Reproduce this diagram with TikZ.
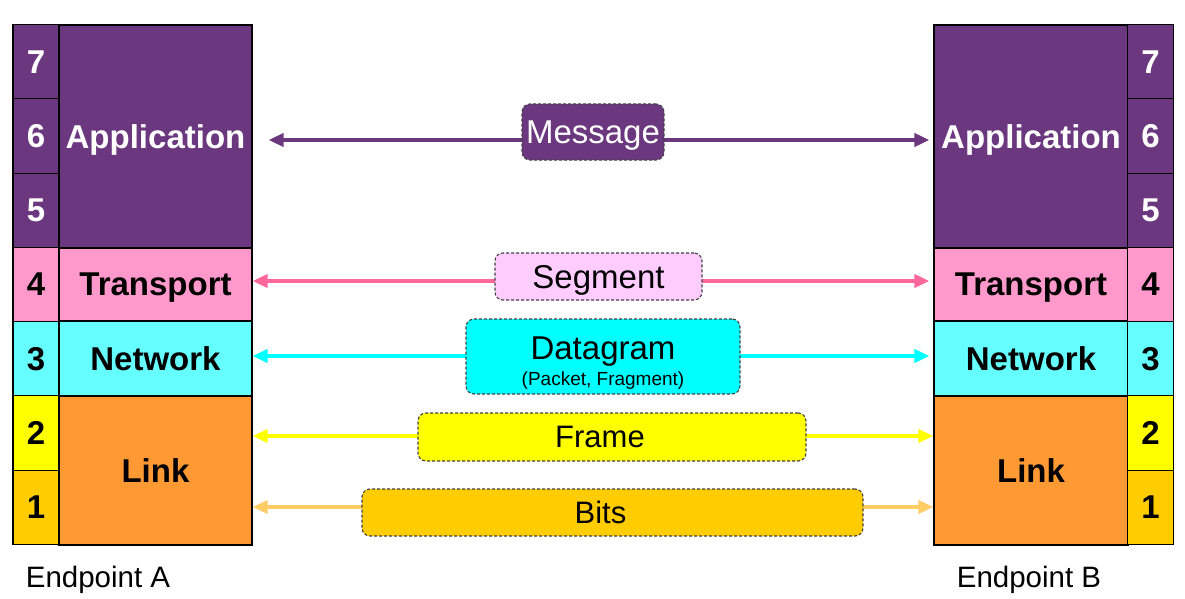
\documentclass[tikz,border=0pt]{standalone}
\usepackage{fontspec}
\setmainfont{Liberation Sans}
\usetikzlibrary{arrows.meta,backgrounds}
\definecolor{apppurple}{RGB}{107,56,128}
\definecolor{transpink}{RGB}{255,153,204}
\definecolor{segpink}{RGB}{255,204,255}
\definecolor{segline}{RGB}{255,102,153}
\definecolor{netcyan}{RGB}{102,255,255}
\definecolor{dgcyan}{RGB}{0,255,255}
\definecolor{linkorange}{RGB}{255,153,51}
\definecolor{frameyellow}{RGB}{255,255,0}
\definecolor{bitsgold}{RGB}{255,204,0}
\definecolor{bitsline}{RGB}{255,204,102}
\definecolor{dashgray}{RGB}{64,64,64}
\begin{document}
\begin{tikzpicture}[x=1pt, y=-1pt, >={Triangle[length=15pt,width=13pt]},
    layer/.style ={rectangle, draw=black, line width=1.2pt, inner sep=0pt, text depth=0pt,
                   font=\fontsize{33}{38}\selectfont\bfseries},
    num/.style   ={layer, minimum width=46pt, minimum height=74.3pt},
    pdu/.style   ={rectangle, rounded corners=8pt, draw=dashgray, line width=1.1pt,
                   dash pattern=on 3pt off 2pt, inner sep=0pt, text depth=0pt,
                   font=\fontsize{33}{38}\selectfont},
    pipe/.style  ={line width=4pt, <->}]
   \useasboundingbox (0,0) rectangle (1185,599);
   % endpoint A
   \node[num, fill=apppurple, text=white] (A7) at (36,62)    {7};
   \node[num, fill=apppurple, text=white] (A6) at (36,136)   {6};
   \node[num, fill=apppurple, text=white] (A5) at (36,210.5) {5};
   \node[num, fill=transpink]             (A4) at (36,284.5) {4};
   \node[num, fill=netcyan]               (A3) at (36,358.5) {3};
   \node[num, fill=frameyellow]           (A2) at (36,433)   {2};
   \node[num, fill=bitsgold]              (A1) at (36,507.5) {1};
   \node[layer, fill=apppurple, text=white, minimum width=193pt, minimum height=223pt] (appA) at (155.5,136.5) {Application};
   \node[layer, fill=transpink,  minimum width=193pt, minimum height=73pt]  (trA)  at (155.5,284.5) {Transport};
   \node[layer, fill=netcyan,    minimum width=193pt, minimum height=75pt]  (netA) at (155.5,358.5) {Network};
   \node[layer, fill=linkorange, minimum width=193pt, minimum height=149pt] (lnkA) at (155.5,470.5) {Link};
   \node[font=\fontsize{29.5}{34}\selectfont] (endA) at (98,580) {Endpoint A};
   % endpoint B
   \node[layer, fill=apppurple, text=white, minimum width=194pt, minimum height=223pt] (appB) at (1031,136.5) {Application};
   \node[layer, fill=transpink,  minimum width=194pt, minimum height=73pt]  (trB)  at (1031,284.5) {Transport};
   \node[layer, fill=netcyan,    minimum width=194pt, minimum height=75pt]  (netB) at (1031,358.5) {Network};
   \node[layer, fill=linkorange, minimum width=194pt, minimum height=149pt] (lnkB) at (1031,470.5) {Link};
   \node[num, fill=apppurple, text=white] (B7) at (1150.5,62)    {7};
   \node[num, fill=apppurple, text=white] (B6) at (1150.5,136)   {6};
   \node[num, fill=apppurple, text=white] (B5) at (1150.5,210.5) {5};
   \node[num, fill=transpink]             (B4) at (1150.5,284.5) {4};
   \node[num, fill=netcyan]               (B3) at (1150.5,358.5) {3};
   \node[num, fill=frameyellow]           (B2) at (1150.5,433)   {2};
   \node[num, fill=bitsgold]              (B1) at (1150.5,507.5) {1};
   \node[font=\fontsize{29.5}{34}\selectfont] (endB) at (1029,580) {Endpoint B};
   % data units
   \node[pdu, fill=apppurple, text=white, minimum width=142pt, minimum height=56pt] (msg) at (593,132) {Message};
   \node[pdu, fill=segpink,     minimum width=207pt, minimum height=47pt] (seg)   at (598.5,276.5) {Segment};
   \node[pdu, fill=dgcyan,      minimum width=274pt, minimum height=75pt, align=center, text depth=] (dgram) at (603,356.5)
        {\rule{0pt}{35pt}Datagram\\[-12pt]{\fontsize{19}{22}\selectfont (Packet, Fragment)}};
   \node[pdu, fill=frameyellow, minimum width=388pt, minimum height=48pt, font=\fontsize{31}{36}\selectfont] (frame) at (612,437)   {Frame\kern24pt};
   \node[pdu, fill=bitsgold,    minimum width=501pt, minimum height=47pt, font=\fontsize{31}{36}\selectfont] (bits)  at (612.5,512.5) {Bits\kern24pt};
   \coordinate (msgrow)   at (0,140);
   \coordinate (segrow)   at (0,281);
   \coordinate (dgrow)    at (0,356);
   \coordinate (framerow) at (0,436);
   \coordinate (bitsrow)  at (0,507);
   \begin{scope}[on background layer]
     \draw[pipe, apppurple, shorten <=16pt, shorten >=4pt] (appA.east |- msgrow) -- (appB.west |- msgrow);
     \draw[pipe, segline, shorten >=4pt]  (trA.east |- segrow)  -- (trB.west |- segrow);
     \draw[pipe, dgcyan, shorten >=4pt]   (netA.east |- dgrow)  -- (netB.west |- dgrow);
     \draw[pipe, frameyellow] (lnkA.east |- framerow) -- (lnkB.west |- framerow);
     \draw[pipe, bitsline]    (lnkA.east |- bitsrow)  -- (lnkB.west |- bitsrow);
   \end{scope}
 \end{tikzpicture}
\end{document}
